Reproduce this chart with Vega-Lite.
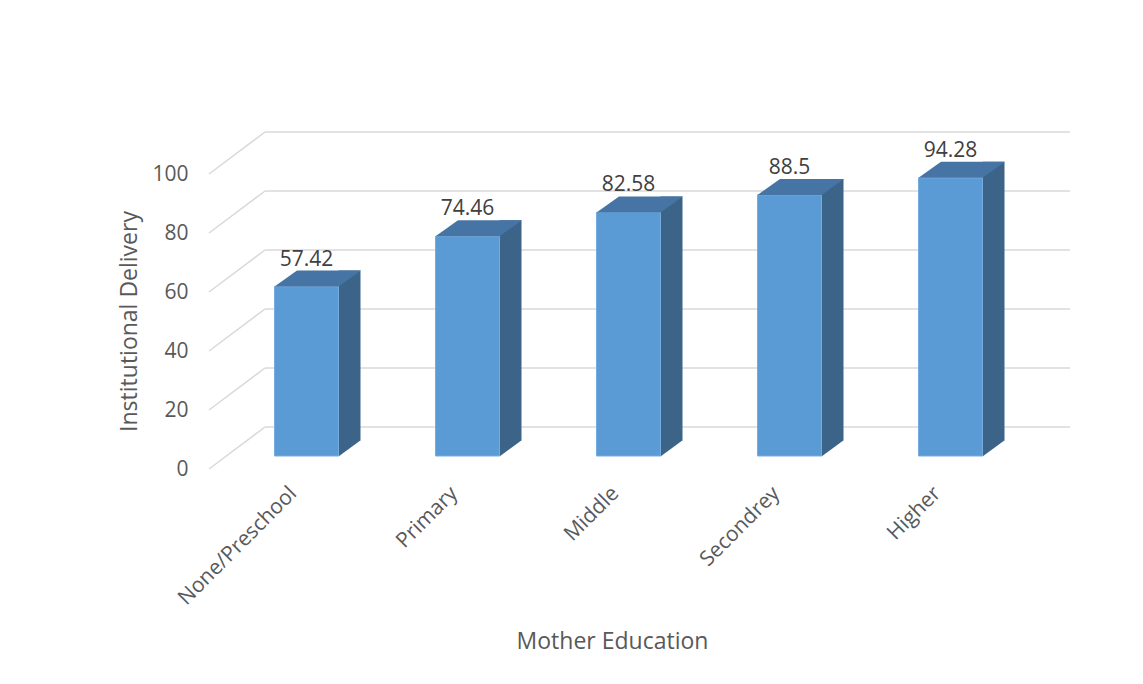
{
  "$schema": "https://vega.github.io/schema/vega-lite/v6.json",
  "autosize": "none",
  "width": 805,
  "height": 295,
  "padding": {"left": 226, "top": 161, "right": 112, "bottom": 228},
  "background": "white",
  "config": {
    "view": {"stroke": null},
    "font": "Open Sans"
  },
  "datasets": {
    "bars": [
      {"edu": "None/Preschool", "v": 57.42},
      {"edu": "Primary", "v": 74.46},
      {"edu": "Middle", "v": 82.58},
      {"edu": "Secondrey", "v": 88.5},
      {"edu": "Higher", "v": 94.28}
    ],
    "grid": [{"g": 0}, {"g": 20}, {"g": 40}, {"g": 60}, {"g": 80}, {"g": 100}]
  },
  "layer": [
    {
      "data": {"name": "grid"},
      "mark": {"type": "rule", "color": "#d9d9d9", "strokeWidth": 1.5, "xOffset": 39, "x2Offset": 39, "yOffset": -29},
      "encoding": {
        "x": {"value": 0},
        "x2": {"value": {"expr": "width"}},
        "y": {"field": "g", "type": "quantitative", "scale": {"domain": [0, 100], "nice": false},
              "axis": {"values": [0, 20, 40, 60, 80, 100], "grid": false, "domain": false, "ticks": false,
                       "labelPadding": 38, "labelOffset": 13, "labelFontSize": 21, "labelColor": "#595959",
                       "title": "Institutional Delivery", "titleFontSize": 23, "titleFontWeight": "normal",
                       "titleColor": "#595959", "titlePadding": 10, "titleY": 160}}
      }
    },
    {
      "data": {"name": "grid"},
      "mark": {"type": "rule", "color": "#d9d9d9", "strokeWidth": 1.5, "xOffset": -17, "x2Offset": 39, "yOffset": 13, "y2Offset": -29},
      "encoding": {
        "x": {"value": 0},
        "x2": {"value": 0},
        "y": {"field": "g", "type": "quantitative"},
        "y2": {"field": "g"}
      }
    },
    {
      "data": {"name": "bars"},
      "layer": [
        {
          "mark": {"type": "bar", "width": 22, "xOffset": 43, "yOffset": -16, "y2Offset": -16, "color": "#3b6488"},
          "encoding": {
            "x": {"field": "edu", "type": "nominal", "sort": null,
                  "scale": {"paddingInner": 0, "paddingOuter": 0},
                  "axis": {"domain": false, "ticks": false, "labelAngle": -45, "labelAlign": "right", "labelBaseline": "middle",
                           "labelPadding": 34, "labelOffset": -13, "labelFontSize": 21, "labelColor": "#595959",
                           "title": "Mother Education", "titleFontSize": 23, "titleFontWeight": "normal",
                           "titleColor": "#595959", "titlePadding": 22, "titleX": 386}},
            "y": {"field": "v", "type": "quantitative"}
          }
        },
        {
          "mark": {"type": "point", "shape": "M 0.5333 0.01 L 0.5333 -0.2667 L 0.9083 -0.2667 Z", "size": 14400, "filled": true, "opacity": 1, "strokeWidth": 0, "color": "#3b6488"},
          "encoding": {
            "x": {"field": "edu", "type": "nominal", "sort": null},
            "y": {"datum": 0, "type": "quantitative"}
          }
        },
        {
          "mark": {"type": "bar", "width": 64, "color": "#5b9bd5", "stroke": "#74ace0", "strokeWidth": 1},
          "encoding": {
            "x": {"field": "edu", "type": "nominal", "sort": null},
            "y": {"field": "v", "type": "quantitative"}
          }
        },
        {
          "mark": {"type": "point", "shape": "M -0.5333 0 L 0.5333 0 L 0.9083 -0.2667 L -0.1583 -0.2667 Z", "size": 14400, "filled": true, "opacity": 1, "strokeWidth": 0, "color": "#4675a5"},
          "encoding": {
            "x": {"field": "edu", "type": "nominal", "sort": null},
            "y": {"field": "v", "type": "quantitative"}
          }
        },
        {
          "mark": {"type": "text", "dy": -27, "fontSize": 21, "color": "#404040", "baseline": "middle"},
          "encoding": {
            "x": {"field": "edu", "type": "nominal", "sort": null},
            "y": {"field": "v", "type": "quantitative"},
            "text": {"field": "v", "type": "nominal"}
          }
        }
      ]
    }
  ]
}
